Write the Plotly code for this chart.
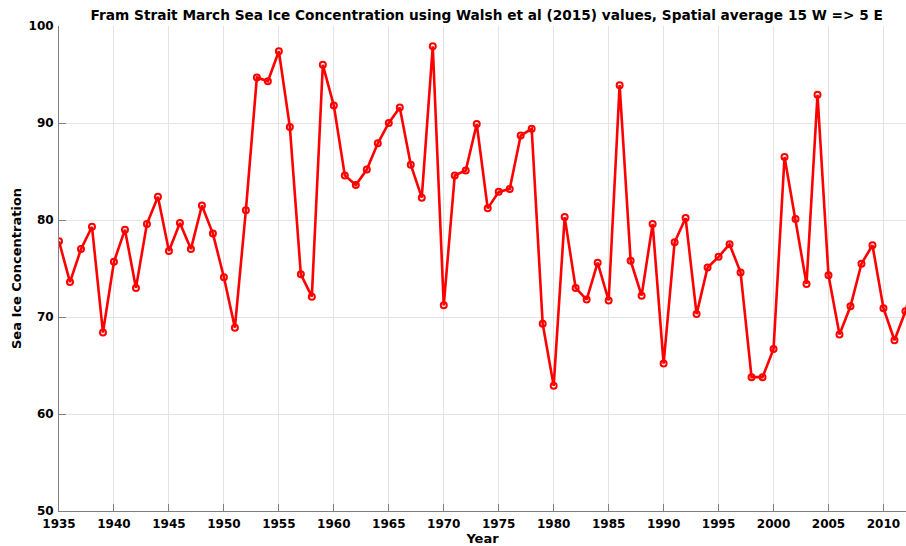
import plotly.graph_objects as go

years = list(range(1935, 2014))
concentration = [
    77.8, 73.6, 77.0, 79.3, 68.4, 75.7, 79.0, 73.0, 79.6, 82.4,
    76.8, 79.7, 77.0, 81.5, 78.6, 74.1, 68.9, 81.0, 94.7, 94.3,
    97.4, 89.6, 74.4, 72.1, 96.0, 91.8, 84.6, 83.6, 85.2, 87.9,
    90.0, 91.6, 85.7, 82.3, 97.9, 71.2, 84.6, 85.1, 89.9, 81.2,
    82.9, 83.2, 88.7, 89.4, 69.3, 62.9, 80.3, 73.0, 71.8, 75.6,
    71.7, 93.9, 75.8, 72.2, 79.6, 65.2, 77.7, 80.2, 70.3, 75.1,
    76.2, 77.5, 74.6, 63.8, 63.8, 66.7, 86.5, 80.1, 73.4, 92.9,
    74.3, 68.2, 71.1, 75.5, 77.4, 70.9, 67.6, 70.6, 74.7,
]
x_ticks = list(range(1935, 2015, 5))
y_ticks = [50, 60, 70, 80, 90, 100]

FONT = "DejaVu Sans"

fig = go.Figure()
fig.add_trace(go.Scatter(
    x=years, y=concentration, mode="lines+markers",
    line=dict(color="#ff0000", width=2.6),
    marker=dict(symbol="circle-open", size=6, color="#ff0000", line=dict(width=2)),
    showlegend=False,
    cliponaxis=True,
))

fig.update_layout(
    width=906, height=546,
    margin=dict(l=59, r=0, t=26, b=35, autoexpand=False),
    paper_bgcolor="white", plot_bgcolor="white",
    font=dict(family=FONT, size=12, color="black"),
    title=dict(
        text="Fram Strait March Sea Ice Concentration using Walsh et al (2015) values, Spatial average 15 W => 5 E",
        font=dict(family=FONT, size=13.7, color="black", weight="bold"),
        x=0.505, xref="paper", xanchor="center",
        y=1 - 15 / 546, yref="container", yanchor="middle",
    ),
    xaxis=dict(
        range=[1935, 2012.05], tickvals=x_ticks, ticktext=[str(v) for v in x_ticks],
        automargin=False,
        showgrid=True, gridcolor="#e3e3e3", gridwidth=1,
        showline=True, linecolor="#7f7f7f", linewidth=1,
        ticks="inside", ticklen=7, tickcolor="#7f7f7f",
        ticklabelstandoff=2,
        tickfont=dict(family=FONT, size=12, color="black", weight="bold"),
        title=dict(text="Year", font=dict(family=FONT, size=13, color="black", weight="bold"), standoff=0),
        zeroline=False,
    ),
    yaxis=dict(
        range=[50, 100], tickvals=y_ticks,
        automargin=False,
        showgrid=True, gridcolor="#e3e3e3", gridwidth=1,
        showline=True, linecolor="#7f7f7f", linewidth=1,
        ticks="inside", ticklen=7, tickcolor="#7f7f7f",
        ticklabelstandoff=2,
        tickfont=dict(family=FONT, size=12, color="black", weight="bold"),
        title=dict(text="Sea Ice Concentration", font=dict(family=FONT, size=13, color="black", weight="bold"), standoff=3),
        zeroline=False,
    ),
)

# Remove the page's default body margin so the 906x546 figure fills the window exactly.
fig.write_html(
    "out.html",
    config={"displayModeBar": False},
    post_script="document.body.style.margin='0';document.body.style.overflow='hidden';",
)
